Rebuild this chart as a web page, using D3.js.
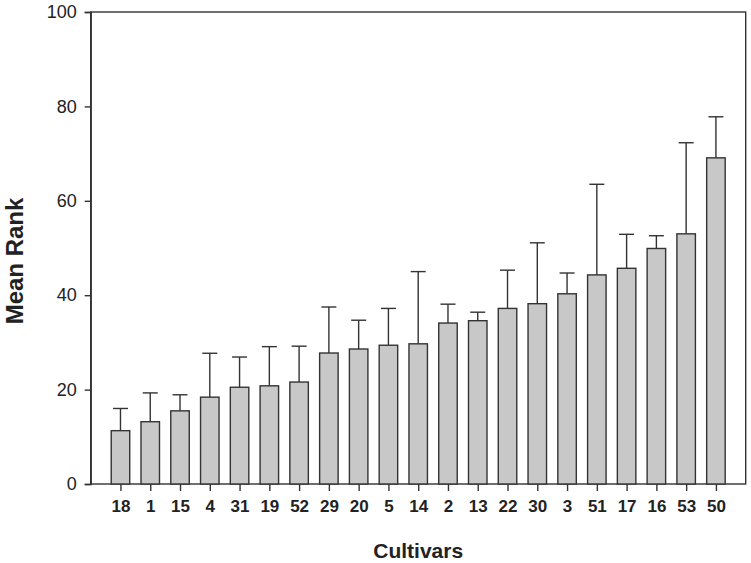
<!DOCTYPE html>
<html>
<head>
<meta charset="utf-8">
<script src="https://cdn.jsdelivr.net/npm/d3@7"></script>
<style>
  body { margin: 0; background: #fff; }
  svg { display: block; font-family: "Liberation Sans", Arial, sans-serif; }
</style>
</head>
<body>
<svg id="chart" width="751" height="563"></svg>
<script>
const cultivars = ["18","1","15","4","31","19","52","29","20","5","14","2","13","22","30","3","51","17","16","53","50"];
const meanRank = [11.3,13.2,15.5,18.4,20.5,20.8,21.6,27.75,28.6,29.4,29.7,34.1,34.6,37.2,38.2,40.3,44.3,45.7,49.9,53.0,69.1];
const upperError = [4.7,6.1,3.4,9.3,6.4,8.3,7.6,9.75,6.1,7.8,15.3,4.0,1.8,8.1,12.9,4.4,19.2,7.2,2.7,19.3,8.7];
const yTicks = [0,20,40,60,80,100];

const svg = d3.select("#chart");
const mLeft = 90.7, mRight = 745.7, mTop = 12, mBottom = 484;
const stroke = "#333";

const x = d3.scalePoint().domain(cultivars).range([mLeft, mRight]).padding(1);
const y = d3.scaleLinear().domain([0, 100]).range([mBottom, mTop]);
const barW = 18.5, capW = 15;

// frame
svg.append("rect").attr("x", mLeft).attr("y", mTop)
  .attr("width", mRight - mLeft).attr("height", mBottom - mTop)
  .attr("fill", "none").attr("stroke", stroke).attr("stroke-width", 1.4);

const data = cultivars.map((c, i) => ({c, v: meanRank[i], e: upperError[i]}));

// error bars
const eb = svg.append("g");
eb.selectAll("line.v").data(data).join("line").attr("class", "v")
  .attr("x1", d => x(d.c)).attr("x2", d => x(d.c))
  .attr("y1", d => y(d.v)).attr("y2", d => y(d.v + d.e))
  .attr("stroke", stroke).attr("stroke-width", 1.4);
eb.selectAll("line.cap").data(data).join("line").attr("class", "cap")
  .attr("x1", d => x(d.c) - capW / 2).attr("x2", d => x(d.c) + capW / 2)
  .attr("y1", d => y(d.v + d.e)).attr("y2", d => y(d.v + d.e))
  .attr("stroke", stroke).attr("stroke-width", 1.4);

// bars
svg.append("g").selectAll("rect").data(data).join("rect")
  .attr("x", d => x(d.c) - barW / 2).attr("width", barW)
  .attr("y", d => y(d.v)).attr("height", d => y(0) - y(d.v))
  .attr("fill", "#c8c8c8").attr("stroke", stroke).attr("stroke-width", 1.4);

// y axis
const yAxis = svg.append("g").attr("transform", `translate(${mLeft},0)`)
  .call(d3.axisLeft(y).tickValues(yTicks).tickSize(6).tickPadding(8).tickFormat(d3.format("d")));
yAxis.select(".domain").attr("stroke", stroke).attr("stroke-width", 1.4);
yAxis.selectAll(".tick line").attr("stroke", stroke).attr("stroke-width", 1.4);
yAxis.selectAll(".tick text").attr("font-size", 18).attr("fill", "#222")
  .attr("font-family", "Liberation Sans, Arial, sans-serif");

// x axis
const xAxis = svg.append("g").attr("transform", `translate(0,${mBottom})`)
  .call(d3.axisBottom(x).tickSize(7).tickPadding(9));
xAxis.select(".domain").remove();
xAxis.selectAll(".tick line").attr("stroke", stroke).attr("stroke-width", 1.4);
xAxis.selectAll(".tick text").attr("font-size", 17).attr("font-weight", "bold").attr("fill", "#222")
  .attr("font-family", "Liberation Sans, Arial, sans-serif");

// axis titles
svg.append("text").attr("x", (mLeft + mRight) / 2).attr("y", 558)
  .attr("text-anchor", "middle").attr("font-size", 21).attr("font-weight", "bold").attr("fill", "#222")
  .text("Cultivars");
svg.append("text").attr("transform", `translate(23,261) rotate(-90)`)
  .attr("text-anchor", "middle").attr("font-size", 24).attr("font-weight", "bold").attr("fill", "#222")
  .text("Mean Rank");
</script>
</body>
</html>
